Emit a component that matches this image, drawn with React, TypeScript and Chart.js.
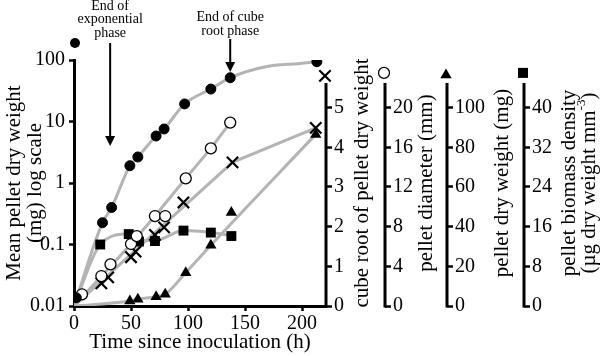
import React, { useEffect, useRef } from "react";
import { Chart, registerables } from "chart.js";

Chart.register(...registerables);

const FONT = "'Liberation Serif', 'Times New Roman', serif";

// ---- axis ticks ----
const xTickValues = [0, 50, 100, 150, 200];
const logTickValues = [0.01, 0.1, 1, 10, 100];
const cubeTicks = [0, 1, 2, 3, 4, 5];
const diamTicks = [0, 4, 8, 12, 16, 20];
const dryTicks = [0, 20, 40, 60, 80, 100];
const densTicks = [0, 8, 16, 24, 32, 40];

// ---- mean pellet dry weight (mg, log scale) : filled circles ----
const meanTime = [2, 25, 33, 49, 56, 72, 79, 97, 120, 137, 213];
const meanMg = [0.0136, 0.226, 0.4, 1.91, 2.65, 5.81, 7.55, 19.3, 33.7, 51.5, 93.8];
const meanFitTime = [0, 25, 33, 49, 56, 72, 79, 97, 120, 137, 168, 198, 213];
const meanFitMg = [0.01, 0.226, 0.4, 1.91, 2.65, 5.81, 7.55, 19.3, 33.7, 51.5, 77.8, 88, 93.8];

// ---- cube root of pellet dry weight : crosses ----
const cubeTime = [24, 30, 50, 54, 71, 79, 96, 139, 212];
const cubeRoot = [0.57, 0.72, 1.23, 1.37, 1.79, 1.98, 2.61, 3.62, 4.49];
const cubeFitTime = [0, 139, 212];
const cubeFitRoot = [0, 3.62, 4.49];

// ---- pellet diameter (mm) : open circles ----
const diamTime = [7, 24, 32, 50, 55, 71, 80, 98, 120, 137];
const diamMm = [1.18, 3.02, 4.2, 6.25, 7.05, 9.07, 9.07, 12.87, 15.89, 18.49];
const diamFitTime = [0, 50, 71, 98, 120, 137];
const diamFitMm = [0, 6.25, 9.07, 12.87, 15.89, 18.49];

// ---- pellet dry weight (mg) : triangles ----
const dryTime = [49, 56, 72, 80, 98, 120, 138, 212];
const dryMg = [2.5, 3.4, 4.7, 5.9, 16.8, 30.6, 47.1, 86.5];
const dryFitTime = [0, 49, 56, 72, 80, 98, 120, 212];
const dryFitMg = [0, 2.5, 3.4, 4.7, 5.9, 16.8, 30.6, 86.5];

// ---- pellet biomass density (ug dry weight mm^-3) : squares ----
const densTime = [23, 48, 57, 71, 96, 120, 138];
const densValue = [12.4, 14.5, 13.0, 13.1, 15.2, 14.8, 14.1];
const densFitTime = [0, 23, 48, 57, 71, 96, 120, 138];
const densFitValue = [0, 12.4, 14.5, 13.2, 13.2, 15.2, 14.8, 14.2];

// annotation anchors (data units)
const expArrowTime = 31.7;
const expArrowTipMg = 4.0;
const cubeArrowTime = 137;
const cubeArrowTipMg = 64;

const GREY = "#b4b4b4";

const xy = (xs: number[], ys: number[]) => xs.map((x, i) => ({ x, y: ys[i] }));

type Sym = "filled" | "open" | "cross" | "tri" | "square";

function drawSymbol(ctx: CanvasRenderingContext2D, kind: Sym, x: number, y: number) {
  ctx.save();
  ctx.fillStyle = "#000";
  ctx.strokeStyle = "#000";
  if (kind === "filled") {
    ctx.beginPath();
    ctx.arc(x, y, 5, 0, Math.PI * 2);
    ctx.fill();
  } else if (kind === "open") {
    ctx.beginPath();
    ctx.arc(x, y, 5.5, 0, Math.PI * 2);
    ctx.fillStyle = "#fff";
    ctx.fill();
    ctx.lineWidth = 1.3;
    ctx.stroke();
  } else if (kind === "cross") {
    const d = 5.7;
    ctx.lineWidth = 2.2;
    ctx.beginPath();
    ctx.moveTo(x - d, y - d);
    ctx.lineTo(x + d, y + d);
    ctx.moveTo(x + d, y - d);
    ctx.lineTo(x - d, y + d);
    ctx.stroke();
  } else if (kind === "tri") {
    const r = 6.5;
    ctx.beginPath();
    ctx.moveTo(x, y - r);
    ctx.lineTo(x + r * 0.866, y + r * 0.5);
    ctx.lineTo(x - r * 0.866, y + r * 0.5);
    ctx.closePath();
    ctx.fill();
  } else {
    ctx.fillRect(x - 5, y - 5, 10, 10);
  }
  ctx.restore();
}

const rightAxes = [
  {
    id: "yCube",
    lineTop: 5.62,
    symbolAt: 5.8,
    symbol: "cross" as Sym,
    titles: [{ text: "cube root of pellet dry weight", off: 23 }],
  },
  {
    id: "yDiam",
    lineTop: 22.48,
    symbolAt: 23.5,
    symbol: "open" as Sym,
    titles: [{ text: "pellet diameter (mm)", off: 21 }],
  },
  {
    id: "yDry",
    lineTop: 112.4,
    symbolAt: 116.5,
    symbol: "tri" as Sym,
    titles: [{ text: "pellet dry weight (mg)", off: 22 }],
  },
  {
    id: "yDens",
    lineTop: 44.96,
    symbolAt: 47,
    symbol: "square" as Sym,
    titles: [
      { text: "pellet biomass density", off: 31 },
      { text: "(\u00b5g dry weight mm", off: 11, sup: "-3", tail: ")" },
    ],
  },
];

const overlayPlugin = {
  id: "overlay",
  afterDraw(chart: any) {
    const { ctx, chartArea, scales } = chart;
    const xs = scales.x;
    const yl = scales.y;
    const midY = (chartArea.top + chartArea.bottom) / 2;
    ctx.save();

    // right axes: line, symbol, title
    rightAxes.forEach((a) => {
      const s = scales[a.id];
      const px = s.left;
      const y0 = s.getPixelForValue(0);
      const y1 = s.getPixelForValue(a.lineTop);
      ctx.strokeStyle = "#000";
      ctx.lineWidth = 3;
      ctx.beginPath();
      ctx.moveTo(px, y0 + 1.5);
      ctx.lineTo(px, y1);
      ctx.stroke();
      drawSymbol(ctx, a.symbol, px - 1, s.getPixelForValue(a.symbolAt));

      a.titles.forEach((t: any) => {
        ctx.save();
        ctx.translate(s.right - t.off, midY);
        ctx.rotate(-Math.PI / 2);
        ctx.fillStyle = "#000";
        ctx.textBaseline = "middle";
        ctx.font = `21px ${FONT}`;
        if (t.sup) {
          const w1 = ctx.measureText(t.text).width;
          ctx.font = `13px ${FONT}`;
          const w2 = ctx.measureText(t.sup).width;
          ctx.font = `21px ${FONT}`;
          const w3 = ctx.measureText(t.tail).width;
          const start = -(w1 + w2 + w3) / 2;
          ctx.textAlign = "left";
          ctx.fillText(t.text, start, 0);
          ctx.font = `13px ${FONT}`;
          ctx.fillText(t.sup, start + w1, -7);
          ctx.font = `21px ${FONT}`;
          ctx.fillText(t.tail, start + w1 + w2, 0);
        } else {
          ctx.textAlign = "center";
          ctx.fillText(t.text, 0, 0);
        }
        ctx.restore();
      });
    });

    // left axis symbol
    drawSymbol(ctx, "filled", chartArea.left + 1, chartArea.top - 17);

    // annotations
    const arrow = (x: number, yStart: number, yTip: number) => {
      ctx.strokeStyle = "#000";
      ctx.fillStyle = "#000";
      ctx.lineWidth = 2;
      ctx.beginPath();
      ctx.moveTo(x, yStart);
      ctx.lineTo(x, yTip - 8);
      ctx.stroke();
      ctx.beginPath();
      ctx.moveTo(x - 5, yTip - 10);
      ctx.lineTo(x + 5, yTip - 10);
      ctx.lineTo(x, yTip);
      ctx.closePath();
      ctx.fill();
    };
    ctx.font = `14px ${FONT}`;
    ctx.fillStyle = "#000";
    ctx.textAlign = "center";
    ctx.textBaseline = "middle";

    const ex = xs.getPixelForValue(expArrowTime);
    ["End of", "exponential", "phase"].forEach((l, i) => {
      ctx.fillText(l, ex, chartArea.top - 54 + i * 13.5);
    });
    arrow(ex, chartArea.top - 17, yl.getPixelForValue(expArrowTipMg));

    const cx = xs.getPixelForValue(cubeArrowTime);
    ["End of cube", "root phase"].forEach((l, i) => {
      ctx.fillText(l, cx, chartArea.top - 43 + i * 14);
    });
    arrow(cx, chartArea.top - 21, yl.getPixelForValue(cubeArrowTipMg));

    ctx.restore();
  },
};

const tickFont = { size: 20, family: FONT };

function rightScale(max: number, weight: number, width: number, ticks: number[]) {
  return {
    type: "linear",
    position: "right",
    min: 0,
    max,
    weight,
    afterBuildTicks: (s: any) => {
      s.ticks = ticks.map((v) => ({ value: v }));
    },
    afterFit: (s: any) => {
      s.width = width;
    },
    ticks: { font: tickFont, padding: 2, color: "#000" },
    grid: {
      drawOnChartArea: false,
      drawTicks: true,
      tickLength: 6,
      tickWidth: 2.5,
      tickColor: "#000",
    },
    border: { display: false },
    title: { display: false },
  };
}

export default function App() {
  const ref = useRef<HTMLCanvasElement>(null);

  useEffect(() => {
    const canvas = ref.current;
    if (!canvas) return;
    Chart.defaults.font.family = FONT;
    Chart.defaults.color = "#000";

    const fit = (data: any, yAxisID: string, smooth: boolean) => ({
      data,
      yAxisID,
      showLine: true,
      borderColor: GREY,
      borderWidth: 3,
      pointRadius: 0,
      fill: false,
      cubicInterpolationMode: smooth ? "monotone" : "default",
      tension: 0,
      order: 5,
    });
    const marks = (data: any, yAxisID: string, style: any) => ({
      data,
      yAxisID,
      showLine: false,
      order: 0,
      ...style,
    });

    const chart = new Chart(canvas, {
      type: "line",
      data: {
        datasets: [
          fit(xy(meanFitTime, meanFitMg), "y", true),
          fit(xy(cubeFitTime, cubeFitRoot), "yCube", false),
          fit(xy(diamFitTime, diamFitMm), "yDiam", false),
          fit(xy(dryFitTime, dryFitMg), "yDry", true),
          fit(xy(densFitTime, densFitValue), "yDens", true),
          marks(xy(meanTime, meanMg), "y", {
            pointStyle: "circle",
            pointRadius: 5,
            pointBackgroundColor: "#000",
            pointBorderColor: "#000",
            pointBorderWidth: 1,
          }),
          marks(xy(diamTime, diamMm), "yDiam", {
            pointStyle: "circle",
            pointRadius: 5.5,
            pointBackgroundColor: "#fff",
            pointBorderColor: "#000",
            pointBorderWidth: 1.3,
          }),
          marks(xy(cubeTime, cubeRoot), "yCube", {
            pointStyle: "crossRot",
            pointRadius: 8,
            pointBackgroundColor: "#000",
            pointBorderColor: "#000",
            pointBorderWidth: 2.2,
          }),
          marks(xy(dryTime, dryMg), "yDry", {
            pointStyle: "triangle",
            pointRadius: 6.5,
            pointBackgroundColor: "#000",
            pointBorderColor: "#000",
            pointBorderWidth: 0,
          }),
          marks(xy(densTime, densValue), "yDens", {
            pointStyle: "rect",
            pointRadius: 7,
            pointBackgroundColor: "#000",
            pointBorderColor: "#000",
            pointBorderWidth: 0,
          }),
        ],
      },
      options: {
        responsive: false,
        animation: false,
        devicePixelRatio: 1,
        layout: { padding: { top: 60, left: 0, right: 0, bottom: 0 } },
        plugins: {
          legend: { display: false },
          tooltip: { enabled: false },
        },
        scales: {
          x: {
            type: "linear",
            position: "bottom",
            min: 0,
            max: 221,
            afterBuildTicks: (s: any) => {
              s.ticks = xTickValues.map((v) => ({ value: v }));
            },
            afterFit: (s: any) => {
              s.height = 50;
            },
            ticks: { font: tickFont, padding: 1, color: "#000", maxRotation: 0 },
            grid: {
              drawOnChartArea: false,
              drawTicks: true,
              tickLength: 5,
              tickWidth: 2.5,
              tickColor: "#000",
            },
            border: { display: true, color: "#000", width: 3 },
            title: {
              display: true,
              text: "Time since inoculation (h)",
              font: { size: 21, family: FONT },
              color: "#000",
              padding: { top: 0, bottom: 1 },
            },
          },
          y: {
            type: "logarithmic",
            position: "left",
            min: 0.01,
            max: 100,
            afterBuildTicks: (s: any) => {
              s.ticks = logTickValues.map((v) => ({ value: v }));
            },
            afterFit: (s: any) => {
              s.width = 74;
            },
            ticks: {
              font: tickFont,
              padding: 4,
              color: "#000",
              callback: (v: any) => String(v),
            },
            grid: {
              drawOnChartArea: false,
              drawTicks: true,
              tickLength: 5,
              tickWidth: 2.5,
              tickColor: "#000",
            },
            border: { display: true, color: "#000", width: 3 },
            title: {
              display: true,
              text: ["Mean pellet dry weight", "(mg) log scale"],
              font: { size: 21, family: FONT, lineHeight: 1 },
              color: "#000",
              padding: { top: 4, bottom: 0 },
            },
          },
          yCube: rightScale(6.2, 1, 59, cubeTicks),
          yDiam: rightScale(24.8, 2, 62, diamTicks),
          yDry: rightScale(124, 3, 77, dryTicks),
          yDens: rightScale(49.6, 4, 76, densTicks),
        } as any,
      },
      plugins: [overlayPlugin],
    } as any);

    return () => chart.destroy();
  }, []);

  return (
    <div style={{ position: "absolute", left: 0, top: 0, width: 600, height: 356 }}>
      <canvas ref={ref} width={600} height={356} style={{ display: "block", width: 600, height: 356 }} />
    </div>
  );
}
